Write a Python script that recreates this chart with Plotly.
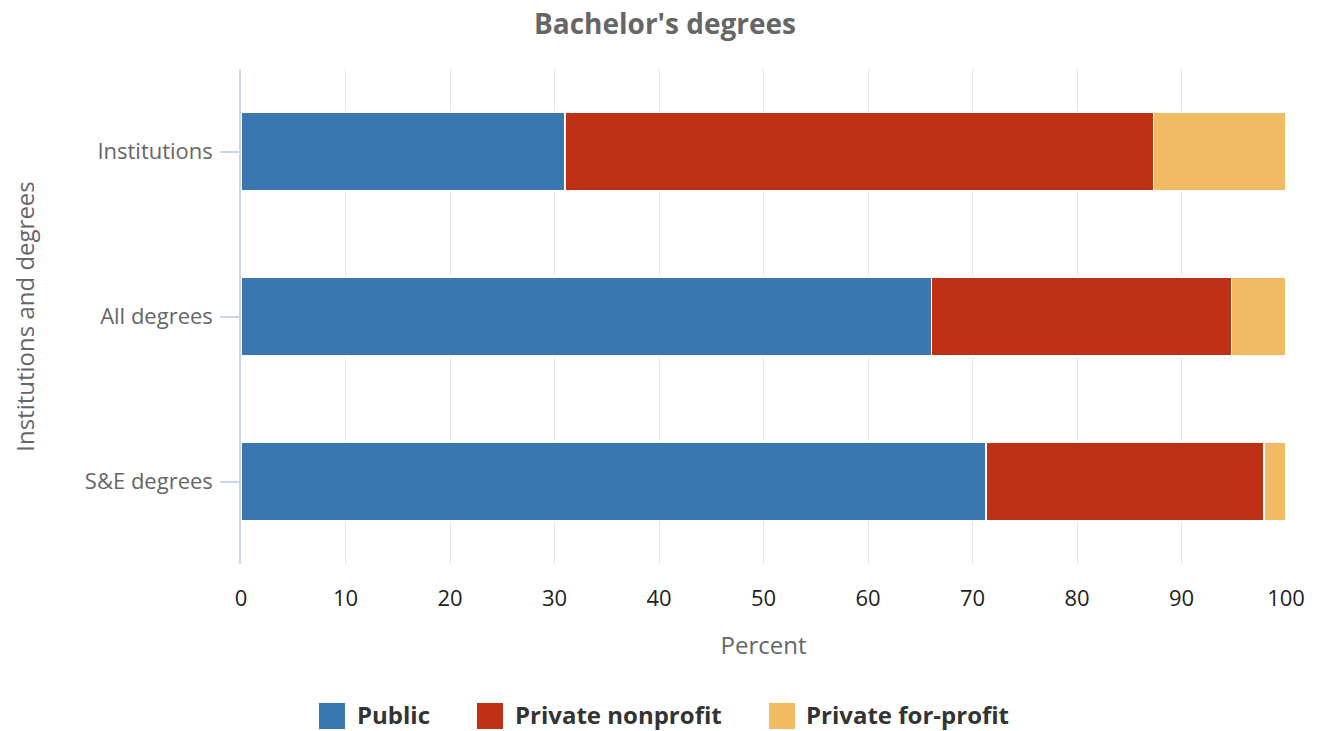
import plotly.graph_objects as go

categories = ["Institutions", "All degrees", "S&E degrees"]
public = [31.0, 66.1, 71.3]
private_nonprofit = [56.3, 28.7, 26.6]
private_forprofit = [12.7, 5.2, 2.1]
series_names = ["Public", "Private nonprofit", "Private for-profit"]
colors = ["#3a76af", "#bd3014", "#f0bb63"]
x_ticks = [0, 10, 20, 30, 40, 50, 60, 70, 80, 90, 100]

FONT = "Open Sans, Noto Sans, sans-serif"

# page offset compensation (body margin in the generated html)
OFF = 7
W, H = 1321 - OFF, 731 - OFF
L, R, T, B = 240 - OFF, 36, 68 - OFF, 731 - 563
PW, PH = W - L - R, H - T - B


def px_to_paper_x(px):
    return (px - OFF - L) / PW


def px_to_paper_y(py):
    return (H - B - (py - OFF)) / PH


fig = go.Figure()
for name, vals, col in zip(series_names, [public, private_nonprofit, private_forprofit], colors):
    fig.add_trace(go.Bar(
        y=categories, x=vals, name=name, orientation="h",
        marker=dict(color=col, line=dict(color="white", width=1.5)),
        width=0.48, showlegend=False,
    ))

# custom legend (large square swatches, bold labels), screen-pixel layout
legend_square_left = [318, 476, 768]
legend_text_left = [354, 512, 803]
legend_cy = 713
SQ = 26
for name, col, sx, tx in zip(series_names, colors, legend_square_left, legend_text_left):
    fig.add_shape(type="rect", xref="paper", yref="paper",
                  x0=px_to_paper_x(sx), x1=px_to_paper_x(sx + SQ),
                  y0=px_to_paper_y(legend_cy + 2 + SQ / 2), y1=px_to_paper_y(legend_cy + 2 - SQ / 2),
                  fillcolor=col, line=dict(width=0), layer="above")
    fig.add_annotation(text="<b>" + name + "</b>", xref="paper", yref="paper",
                       x=px_to_paper_x(tx), y=px_to_paper_y(legend_cy),
                       xanchor="left", yanchor="middle", showarrow=False,
                       font=dict(size=24, color="#333333", family=FONT))

fig.update_layout(
    width=W, height=H,
    barmode="stack",
    showlegend=False,
    plot_bgcolor="white", paper_bgcolor="white",
    margin=dict(l=L, r=R, t=T, b=B, autoexpand=False),
    font=dict(family=FONT, color="#666666"),
    title=dict(text="<b>Bachelor's degrees</b>", x=0.5, xanchor="center",
               yref="container", y=1 - (23 - OFF) / H, yanchor="middle",
               font=dict(size=28, color="#666666", family=FONT)),
)
fig.update_xaxes(
    range=[0, 100], tickvals=x_ticks, showgrid=True, gridcolor="#e6e6e6", gridwidth=1,
    zeroline=False, showline=False, ticks="", automargin=False,
    tickfont=dict(size=22, color="#222222"), ticklabelstandoff=19,
    title=dict(text="Percent", font=dict(size=24, color="#666666"), standoff=26),
)
fig.update_yaxes(
    categoryorder="array", categoryarray=categories[::-1], automargin=False,
    showline=True, linecolor="#ccd6eb", linewidth=1.5, showgrid=False,
    ticks="outside", ticklen=19, tickcolor="#ccd6eb", tickwidth=1.5,
    tickfont=dict(size=22, color="#666666"), ticklabelstandoff=3,
    title=dict(text="Institutions and degrees", font=dict(size=24, color="#666666"), standoff=64),
)

fig.write_html("out.html")
